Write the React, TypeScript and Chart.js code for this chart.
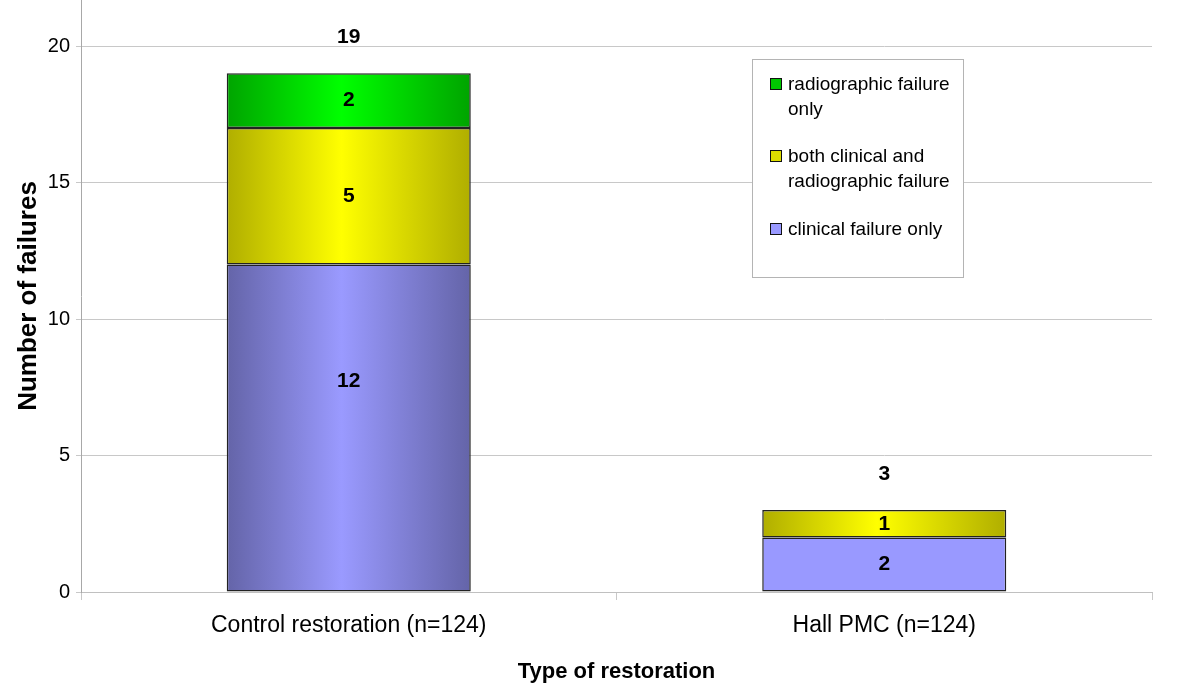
import React, { useEffect, useRef } from "react";
import { Chart, registerables } from "chart.js";

Chart.register(...registerables);

const categories = ["Control restoration (n=124)", "Hall PMC (n=124)"];
const clinicalOnly = [12, 2];
const bothFailure = [5, 1];
const radiographicOnly = [2, 0];
const seriesLabels = [
  "clinical failure only",
  "both clinical and radiographic failure",
  "radiographic failure only",
];
const legendLines = [
  ["clinical failure only"],
  ["both clinical and", "radiographic failure"],
  ["radiographic failure", "only"],
];
const yTicks = [0, 5, 10, 15, 20];

// styles
const FONT = "'Liberation Sans', Arial, sans-serif";
const palettes = [
  { edge: "#6464a8", mid: "#9a9aff", flat: "#9999ff", legend: "#9999ff" },
  { edge: "#b0ae00", mid: "#ffff00", flat: "#ffff00", legend: "#dede00" },
  { edge: "#00a400", mid: "#00ff00", flat: "#00ff00", legend: "#00c800" },
];
const gradientStyle = [
  [true, false],
  [true, true],
  [true, true],
];
const labelShift = [
  [-47, 0],
  [0, 0],
  [0, 0],
];
const BAR_FRACTION = 0.4557;

function makeFill(si: number) {
  return (ctx: any) => {
    const chart = ctx.chart;
    const p = palettes[si];
    const i = ctx.dataIndex;
    const xs = chart.scales && chart.scales.x;
    if (!chart.chartArea || !xs || i === undefined || !gradientStyle[si][i]) return p.flat;
    const cx = xs.getPixelForValue(i);
    const w = (xs.width / categories.length) * BAR_FRACTION;
    if (!isFinite(cx) || !isFinite(w) || w <= 0) return p.flat;
    const g = chart.ctx.createLinearGradient(cx - w / 2, 0, cx + w / 2, 0);
    g.addColorStop(0, p.edge);
    g.addColorStop(0.47, p.mid);
    g.addColorStop(1, p.edge);
    return g;
  };
}

const valueLabelPlugin = {
  id: "valueLabels",
  afterDatasetsDraw(chart: any) {
    const c = chart.ctx;
    c.save();
    c.fillStyle = "#000";
    c.font = `bold 21px ${FONT}`;
    c.textAlign = "center";
    c.textBaseline = "middle";
    const n = chart.data.labels.length;
    for (let i = 0; i < n; i++) {
      let top = Infinity;
      let total = 0;
      let cx = 0;
      chart.data.datasets.forEach((ds: any, si: number) => {
        const el = chart.getDatasetMeta(si).data[i];
        const v = ds.data[i];
        const { x, y, base } = el.getProps(["x", "y", "base"], true);
        cx = x;
        if (v > 0) {
          total += v;
          top = Math.min(top, y);
          c.fillText(String(v), x, (y + base) / 2 + labelShift[si][i]);
        }
      });
      if (isFinite(top)) c.fillText(String(total), cx, top - 36);
    }
    c.restore();
  },
};

const boxLegendPlugin = {
  id: "boxLegend",
  afterDraw(chart: any) {
    const c = chart.ctx;
    const left = 752.5, top = 59.5, right = 963.5, bottom = 277.5;
    c.save();
    c.fillStyle = "#fff";
    c.fillRect(left, top, right - left, bottom - top);
    c.strokeStyle = "#b4b4b4";
    c.lineWidth = 1;
    c.strokeRect(left, top, right - left, bottom - top);
    c.font = `19px ${FONT}`;
    c.textAlign = "left";
    c.textBaseline = "alphabetic";
    const order = [2, 1, 0];
    const baselines = [90, 162, 235];
    order.forEach((si, k) => {
      const b = baselines[k];
      c.fillStyle = palettes[si].legend;
      c.fillRect(770.5, b - 11.5, 11, 11);
      c.strokeStyle = "#111";
      c.lineWidth = 1;
      c.strokeRect(770.5, b - 11.5, 11, 11);
      c.fillStyle = "#000";
      legendLines[si].forEach((line, li) => {
        c.fillText(line, 788, b + li * 25);
      });
    });
    c.restore();
  },
};

export default function App() {
  const ref = useRef<HTMLCanvasElement | null>(null);
  useEffect(() => {
    if (!ref.current) return;
    const seriesData = [clinicalOnly, bothFailure, radiographicOnly];
    const chart = new Chart(ref.current, {
      type: "bar",
      data: {
        labels: categories,
        datasets: seriesData.map((d, si) => ({
          label: seriesLabels[si],
          data: d,
          backgroundColor: makeFill(si),
          borderColor: "#222",
          borderWidth: 1.5,
          borderSkipped: false,
          categoryPercentage: BAR_FRACTION,
          barPercentage: 1,
        })),
      },
      options: {
        animation: false,
        responsive: true,
        maintainAspectRatio: false,
        layout: { padding: { top: 0, right: 48, bottom: 0, left: 0 } },
        plugins: {
          legend: { display: false },
          tooltip: { enabled: false },
          title: { display: false },
        },
        scales: {
          x: {
            stacked: true,
            offset: true,
            grid: {
              display: true,
              drawOnChartArea: false,
              drawTicks: true,
              tickLength: 8,
              color: "#c8c8c8",
              offset: true,
            },
            border: { display: true, color: "#c0c0c0", width: 1 },
            ticks: {
              color: "#000",
              font: { family: FONT, size: 23 },
              padding: 12,
              maxRotation: 0,
            },
            title: {
              display: true,
              text: "Type of restoration",
              color: "#000",
              font: { family: FONT, size: 22, weight: "bold" },
              padding: { top: 0, bottom: 14 },
            },
            afterFit: (s: any) => {
              s.height = 107;
              s.paddingLeft = 0;
              s.paddingRight = 0;
            },
          },
          y: {
            stacked: true,
            min: 0,
            max: 21.685,
            grid: {
              color: "#c8c8c8",
              tickLength: 5,
              lineWidth: 1,
            },
            border: { display: true, color: "#a8a8a8", width: 1 },
            ticks: {
              color: "#000",
              font: { family: FONT, size: 20 },
              padding: 6,
            },
            afterBuildTicks: (s: any) => {
              s.ticks = yTicks.map((v) => ({ value: v }));
            },
            title: {
              display: true,
              text: "Number of failures",
              color: "#000",
              font: { family: FONT, size: 26, weight: "bold" },
              padding: { top: 13, bottom: 0 },
            },
            afterFit: (s: any) => {
              s.width = 81;
              s.paddingTop = 0;
              s.paddingBottom = 0;
            },
          },
        },
      },
      plugins: [valueLabelPlugin, boxLegendPlugin],
    });
    return () => chart.destroy();
  }, []);
  return (
    <div style={{ position: "absolute", left: 0, top: 0, width: 1200, height: 699, background: "#fff" }}>
      <canvas ref={ref} />
    </div>
  );
}
